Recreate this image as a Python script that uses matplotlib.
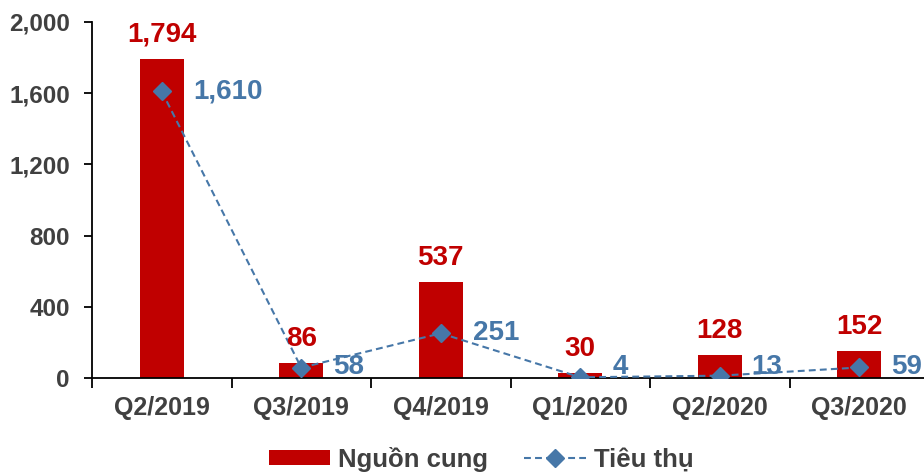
import matplotlib
matplotlib.use("Agg")
import matplotlib.pyplot as plt
import numpy as np

categories = ["Q2/2019", "Q3/2019", "Q4/2019", "Q1/2020", "Q2/2020", "Q3/2020"]
supply = [1794, 86, 537, 30, 128, 152]
absorption = [1610, 58, 251, 4, 13, 59]
yticks = [0, 400, 800, 1200, 1600, 2000]
series_names = ["Nguồn cung", "Tiêu thụ"]

RED = "#C00000"
BLUE = "#4677A8"
GREY = "#404040"

plt.rcParams["font.family"] = ["Liberation Sans", "DejaVu Sans"]
plt.rcParams["font.weight"] = "bold"

fig = plt.figure(figsize=(9.24, 4.73), dpi=100)
ax = fig.add_axes([92/924, 1-378/473, (6*139.5)/924, (378-22)/473])

x = np.arange(len(categories))
bars = ax.bar(x, supply, width=0.315, color=RED, label=series_names[0], zorder=2)
line, = ax.plot(x, absorption, color=BLUE, linestyle=(0, (3.3, 2)), linewidth=1.5,
                marker="D", markersize=9, markerfacecolor=BLUE, markeredgecolor=BLUE,
                label=series_names[1], zorder=3)

for xi, v in zip(x, supply):
    ax.annotate(f"{v:,}", (xi, v), xytext=(0, 8), textcoords="offset points",
                ha="center", va="bottom", color=RED, fontsize=20, fontweight="bold")
for xi, v in zip(x, absorption):
    # keep label inside plot area (as the source chart does)
    ax.annotate(f"{v:,}", (xi, max(v, 62)), xytext=(23, 0), textcoords="offset points",
                ha="left", va="center", color=BLUE, fontsize=20, fontweight="bold")

ax.set_xlim(-0.5, len(categories) - 0.5)
ax.set_ylim(0, 2000)
ax.set_yticks(yticks)
ax.set_yticklabels([f"{t:,}" for t in yticks])
ax.set_xticks(x)
ax.set_xticklabels(categories)
ax.set_xticks(np.arange(len(categories) + 1) - 0.5, minor=True)

ax.tick_params(axis="y", direction="out", length=6, width=1.3, color="black",
               labelsize=17.5, labelcolor=GREY, pad=10)
ax.tick_params(axis="x", which="major", length=0, labelsize=18, labelcolor=GREY, pad=13)
ax.tick_params(axis="x", which="minor", direction="out", length=7, width=1.3, color="black")
for lab in ax.get_xticklabels() + ax.get_yticklabels():
    lab.set_fontweight("bold")

for s in ["top", "right"]:
    ax.spines[s].set_visible(False)
ax.spines["left"].set_linewidth(1.3)
ax.spines["bottom"].set_linewidth(1.3)

leg = fig.legend(handles=[bars, line], labels=series_names, loc="center",
                 bbox_to_anchor=(481/924, 1-459/473), ncol=2, frameon=False,
                 fontsize=18.5, handlelength=2.4, handleheight=0.5, handletextpad=0.3,
                 columnspacing=1.4, labelcolor=GREY)
for t in leg.get_texts():
    t.set_fontweight("bold")

fig.savefig("out.png", dpi=100)
